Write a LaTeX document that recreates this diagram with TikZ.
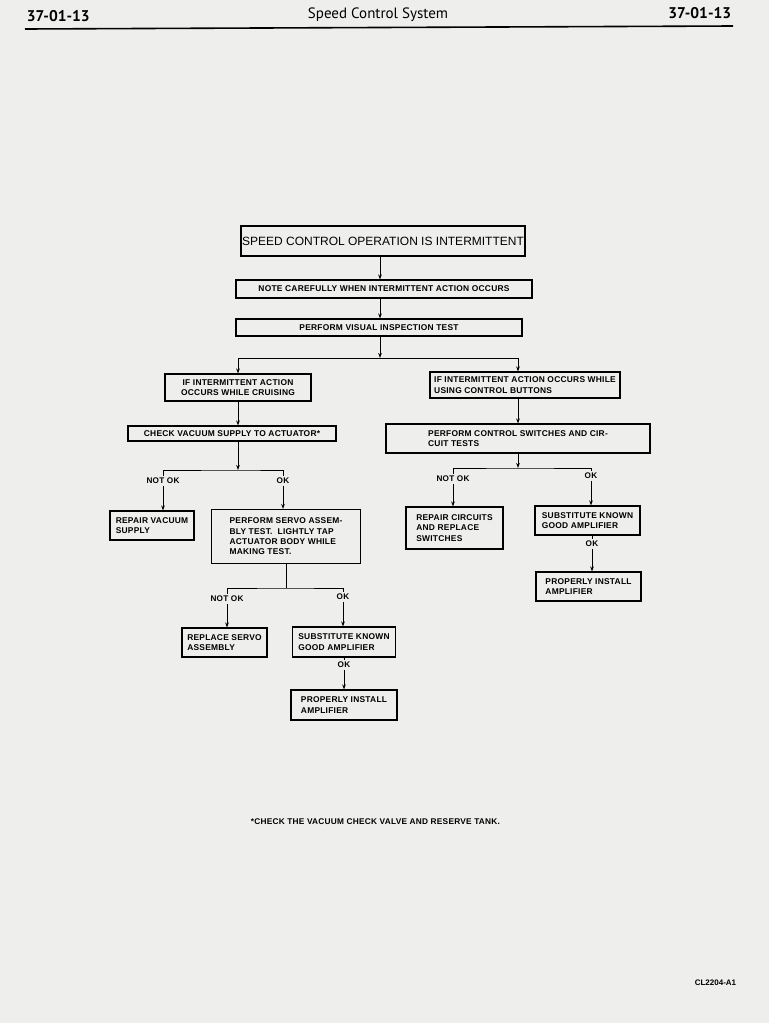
\documentclass[tikz,border=0pt]{standalone}
\usepackage{fontspec}
\setmainfont{Liberation Sans}
\newfontfamily\headfont{PT Sans}
\newfontfamily\boxfont[LetterSpace=3]{Liberation Sans}
\usetikzlibrary{arrows.meta}
\definecolor{paper}{RGB}{238,238,236}
\tikzset{
  >={Stealth[length=5pt,width=3.6pt]},
  box/.style={draw,line width=1.1pt,inner sep=0pt,align=center,font=\boxfont\bfseries\fontsize{8.4}{10.3}\selectfont},
  lbox/.style={box,align=left},
  lab/.style={inner sep=1.5pt,font=\boxfont\bfseries\fontsize{8.2}{9}\selectfont},
  every picture/.style={line width=1pt},
}

\begin{document}
\begin{tikzpicture}[x=1pt,y=-1pt]
\fill[paper] (0,0) rectangle (769,1023);
\useasboundingbox (0,0) rectangle (769,1023);
% page head
\node[anchor=west,font=\headfont\bfseries\fontsize{15.5}{15}\selectfont] (pgl) at (23,16) {37-01-13};
\node[font=\headfont\fontsize{15}{15}\selectfont] (title) at (378,15) {Speed Control System};
\node[anchor=east,font=\headfont\bfseries\fontsize{15.5}{15}\selectfont] (pgr) at (735,13) {37-01-13};
\draw[line width=1.6pt] (25,29) -- (733,26);
% boxes
\node[box,minimum width=284,minimum height=30,font=\fontsize{12}{12}\selectfont] (b1) at (383,241) {SPEED CONTROL OPERATION IS INTERMITTENT};
\node[box,minimum width=296,minimum height=18] (b2) at (384,289) {NOTE CAREFULLY WHEN INTERMITTENT ACTION OCCURS};
\node[box,minimum width=286,minimum height=17] (b3) at (379,327.5) {PERFORM VISUAL INSPECTION TEST};
\node[box,minimum width=146,minimum height=27] (b4l) at (238,387.5) {IF INTERMITTENT ACTION\\OCCURS WHILE CRUISING};
\node[lbox,minimum width=190,minimum height=26] (b4r) at (525,385) {IF INTERMITTENT ACTION OCCURS WHILE\\USING CONTROL BUTTONS};
\node[box,minimum width=208,minimum height=15] (b5l) at (232,433.5) {CHECK VACUUM SUPPLY TO ACTUATOR*};
\node[lbox,minimum width=264,minimum height=29] (b5r) at (518,438.5) {PERFORM CONTROL SWITCHES AND CIR-\\CUIT TESTS};
\node[lbox,minimum width=84,minimum height=29] (b6a) at (152,525.5) {REPAIR VACUUM\\SUPPLY};
\node[lbox,minimum width=149,minimum height=54] (b6b) at (286,536.5) {PERFORM SERVO ASSEM-\\BLY TEST.\ \ LIGHTLY TAP\\ACTUATOR BODY WHILE\\MAKING TEST.};
\node[lbox,minimum width=85,minimum height=29] (b7a) at (224.5,642.5) {REPLACE SERVO\\ASSEMBLY};
\node[lbox,minimum width=103,minimum height=30] (b7b) at (344,642) {SUBSTITUTE KNOWN\\GOOD AMPLIFIER};
\node[lbox,minimum width=106,minimum height=30] (b8) at (344,705) {PROPERLY INSTALL\\AMPLIFIER};
\node[lbox,minimum width=97,minimum height=42] (b9a) at (454.5,528) {REPAIR CIRCUITS\\AND REPLACE\\SWITCHES};
\node[lbox,minimum width=105,minimum height=29] (b9b) at (587.5,520.5) {SUBSTITUTE KNOWN\\GOOD AMPLIFIER};
\node[lbox,minimum width=105,minimum height=29] (b10) at (588.5,586.5) {PROPERLY INSTALL\\AMPLIFIER};
% branch labels
\node[lab] (nok1) at (163,481) {NOT OK};
\node[lab] (ok1) at (283,481) {OK};
\node[lab] (nok2) at (227,599) {NOT OK};
\node[lab] (ok2) at (343,597) {OK};
\node[lab] (ok3) at (344,665) {OK};
\node[lab] (nok4) at (453,479) {NOT OK};
\node[lab] (ok4) at (591,476) {OK};
\node[lab] (ok5) at (592,544) {OK};
\coordinate (j1) at (380,358);
\coordinate (j2) at (238,470);
\coordinate (j3) at (286,588);
\coordinate (j4) at (518,468);
% connectors
\draw[->] (b1.south -| j1) -- (j1 |- b2.north);
\draw[->] (b2.south -| j1) -- (j1 |- b3.north);
\draw[->] (b3.south -| j1) -- (j1);
\draw[->] (j1) -| (b4l);
\draw[->] (j1) -| (b4r.north -| b5r);
\draw[->] (b4l) -- (b5l.north -| b4l);
\draw[->] (b4r.south -| b5r) -- (b5r);
\draw[->] (b5l.south -| j2) -- (j2);
\draw (nok1) |- (j2) -| (ok1);
\draw[->] (nok1) -- (b6a.north -| nok1);
\draw[->] (ok1) -- (b6b.north -| ok1);
\draw (b6b) -- (j3);
\draw (nok2) |- (j3) -| (ok2);
\draw[->] (nok2) -- (b7a.north -| nok2);
\draw[->] (ok2) -- (b7b.north -| ok2);
\draw (b7b) -- (ok3);
\draw[->] (ok3) -- (b8);
\draw[->] (b5r) -- (j4);
\draw (nok4) |- (j4) -| (ok4);
\draw[->] (nok4) -- (b9a.north -| nok4);
\draw[->] (ok4) -- (b9b.north -| ok4);
\draw (b9b.south -| ok5) -- (ok5);
\draw[->] (ok5) -- (b10.north -| ok5);
% footnote and code
\node[anchor=west,font=\boxfont\bfseries\fontsize{8.3}{9}\selectfont] (note) at (247,822) {*CHECK THE VACUUM CHECK VALVE AND RESERVE TANK.};
\node[anchor=east,font=\bfseries\fontsize{8}{8}\selectfont] (code) at (740,983) {CL2204-A1};
\end{tikzpicture}
\end{document}
